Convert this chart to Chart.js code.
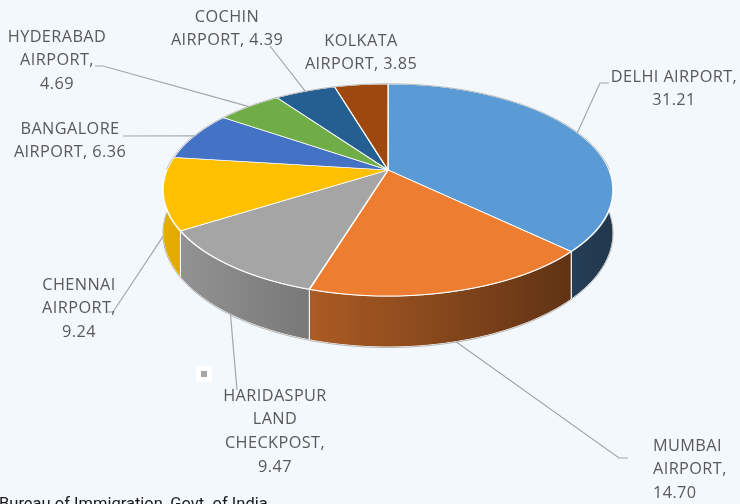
<!DOCTYPE html>
<html><head><meta charset="utf-8">
<script src="https://cdn.jsdelivr.net/npm/chart.js@4/dist/chart.umd.min.js"></script>
<style>html,body{margin:0;padding:0;background:#F2F8FC;overflow:hidden}#wrap{width:740px;height:504px;position:relative}</style>
</head><body><div id="wrap"><canvas id="c" width="740" height="504"></canvas></div>
<script>
// ---- data ----
const categories = ["DELHI AIRPORT","MUMBAI AIRPORT","HARIDASPUR LAND CHECKPOST","CHENNAI AIRPORT","BANGALORE AIRPORT","HYDERABAD AIRPORT","COCHIN AIRPORT","KOLKATA AIRPORT"];
const shares = [31.21, 14.70, 9.47, 9.24, 6.36, 4.69, 4.39, 3.85];
const sliceColors = ["#5B9BD5","#ED7D31","#A5A5A5","#FFC000","#4472C4","#70AD47","#255E91","#9E480E"];
const sourceNote = "Bureau of Immigration, Govt. of India";

// ---- layout (positions/styles only) ----
// perspective view of the pie: apex (cx,cy), horizontal/vertical scale, perspective factor k, wall height H
const view = {cx:388, cy:170, A:221, B:102.2, k:0.1887, H:41.4};
const labelLayout = [
  {lines:["DELHI AIRPORT,","{v}"], x:674, y:77, align:"center", elbow:[[600,83],[609,83]]},
  {lines:["MUMBAI","AIRPORT,","{v}"], x:653, y:446, align:"left", elbow:[[619,458],[628,458]]},
  {lines:["HARIDASPUR","LAND","CHECKPOST,","{v}"], x:275, y:396, align:"center", elbow:[[237,390]]},
  {lines:["CHENNAI","AIRPORT,","{v}"], x:79, y:285, align:"center", elbow:[[113,312],[106,312]]},
  {lines:["BANGALORE","AIRPORT, {v}"], x:70, y:129, align:"center", elbow:[[123,136]]},
  {lines:["HYDERABAD","AIRPORT,","{v}"], x:57, y:37, align:"center", elbow:[[103,66],[95,66]]},
  {lines:["COCHIN","AIRPORT, {v}"], x:227, y:17, align:"center", elbow:[[270,46]]},
  {lines:["KOLKATA","AIRPORT, {v}"], x:361, y:41, align:"center", elbow:null}
];
const labelFont = "16.3px 'Open Sans'";
const lineGap = 23.8;

function shade(hex, f){
  const n = parseInt(hex.slice(1),16);
  const r=Math.round(((n>>16)&255)*f), g=Math.round(((n>>8)&255)*f), b=Math.round((n&255)*f);
  return `rgb(${r},${g},${b})`;
}
// project a point of the unit disc (u right, w toward viewer) to the screen
function proj(u, w, drop){
  const d = 1 - view.k*w;
  return {x: view.cx + view.A*u/d, y: view.cy + view.B*w/d + (drop ? view.H/d : 0)};
}

const pie3d = {
  id:'pie3d',
  beforeDraw(chart){
    const ctx = chart.ctx;
    ctx.save(); ctx.fillStyle = '#F2F8FC'; ctx.fillRect(0,0,chart.width,chart.height); ctx.restore();
  },
  beforeDatasetsDraw(chart){
    const ctx = chart.ctx;
    const meta = chart.getDatasetMeta(0);
    const W = chart.width;
    // --- side walls (front half of the rim) ---
    ctx.save();
    meta.data.forEach((arc,i)=>{
      const p = arc.getProps(['startAngle','endAngle']);
      const a1 = Math.max(p.startAngle, 0), a2 = Math.min(p.endAngle, Math.PI);
      if (a2 <= a1) return;
      const n = Math.max(4, Math.ceil((a2-a1)*80));
      const grad = ctx.createLinearGradient(view.cx-view.A,0,view.cx+view.A,0);
      grad.addColorStop(0, shade(sliceColors[i],0.9));
      grad.addColorStop(1, shade(sliceColors[i],0.36));
      ctx.beginPath();
      for (let j=0;j<=n;j++){ const a=a1+(a2-a1)*j/n; const q=proj(Math.cos(a),Math.sin(a),false); j?ctx.lineTo(q.x,q.y):ctx.moveTo(q.x,q.y); }
      for (let j=n;j>=0;j--){ const a=a1+(a2-a1)*j/n; const q=proj(Math.cos(a),Math.sin(a),true); ctx.lineTo(q.x,q.y); }
      ctx.closePath();
      ctx.fillStyle = grad; ctx.fill();
      ctx.strokeStyle = '#FFFFFF'; ctx.lineWidth = 1; ctx.stroke();
    });
    // faint outline of the bottom rim
    ctx.beginPath();
    for (let j=0;j<=120;j++){ const a=Math.PI*j/120; const q=proj(Math.cos(a),Math.sin(a),true); j?ctx.lineTo(q.x,q.y+0.5):ctx.moveTo(q.x,q.y+0.5); }
    ctx.strokeStyle='rgba(165,165,165,0.8)'; ctx.lineWidth=1; ctx.stroke();
    ctx.restore();

    // --- top face: library draws the pie, row by row, in perspective ---
    const a0 = meta.data[0];
    const R = a0.outerRadius, ax = a0.x, ay = a0.y;
    const yTop = Math.floor(proj(0,-1).y) - 2, yBot = Math.ceil(proj(0,1).y) + 2;
    for (let Y = yTop; Y < yBot; Y++){
      const Ym = Y + 0.5, t = Ym - view.cy;
      const wm = t / (view.B + view.k*t);
      if (wm < -1.05 || wm > 1.05) continue;
      const d = 1 - view.k*wm;
      const sx = view.A/d, sy = view.B/(d*d);
      ctx.save();
      ctx.setTransform(1,0,0,1,0,0);
      ctx.beginPath(); ctx.rect(0, Y, W, 1); ctx.clip();
      ctx.setTransform(sx/R, 0, 0, sy/R, view.cx - sx*ax/R, Ym - sy*wm - sy*ay/R);
      meta.controller.draw();
      ctx.restore();
    }
    // faint outline of the back rim
    ctx.save();
    ctx.beginPath();
    for (let j=0;j<=120;j++){ const a=Math.PI+Math.PI*j/120; const q=proj(Math.cos(a)*1.003,Math.sin(a)*1.003,false); j?ctx.lineTo(q.x,q.y):ctx.moveTo(q.x,q.y); }
    ctx.strokeStyle='rgba(175,175,175,0.8)'; ctx.lineWidth=1; ctx.stroke();
    ctx.restore();
    return false;
  },
  afterDraw(chart){
    const ctx = chart.ctx;
    const meta = chart.getDatasetMeta(0);
    ctx.save();
    // leader lines
    ctx.strokeStyle = '#A6A6A6'; ctx.lineWidth = 1.2;
    meta.data.forEach((arc,i)=>{
      const L = labelLayout[i];
      if (!L.elbow) return;
      const p = arc.getProps(['startAngle','endAngle']);
      const mid = (p.startAngle+p.endAngle)/2;
      const w = Math.sin(mid);
      const q = proj(Math.cos(mid), w, w > 0);
      ctx.beginPath(); ctx.moveTo(q.x,q.y);
      L.elbow.forEach(pt=>ctx.lineTo(pt[0],pt[1]));
      ctx.stroke();
    });
    // labels
    ctx.font = labelFont; ctx.fillStyle = '#595959'; ctx.textBaseline = 'middle';
    try { ctx.letterSpacing = '0.4px'; } catch(e) {}
    labelLayout.forEach((L,i)=>{
      ctx.textAlign = L.align;
      L.lines.forEach((t,k)=>{
        ctx.fillText(t.replace('{v}', shares[i].toFixed(2)), L.x, L.y + k*lineGap);
      });
    });
    try { ctx.letterSpacing = '0px'; } catch(e) {}
    // small marker
    ctx.fillStyle = '#FFFFFF';
    ctx.beginPath(); ctx.roundRect(196,366,16,16,3); ctx.fill();
    ctx.fillStyle = '#A6A6A6'; ctx.fillRect(201,371,6,6);
    // source note
    ctx.font = "16.5px Roboto"; ctx.fillStyle = '#1A1A1A'; ctx.textAlign='left'; ctx.textBaseline='alphabetic';
    ctx.fillText(sourceNote, -1, 509);
    ctx.restore();
  }
};

new Chart(document.getElementById('c').getContext('2d'), {
  type:'pie',
  data:{labels:categories, datasets:[{data:shares, backgroundColor:sliceColors, borderColor:'#FFFFFF', borderWidth:1.5}]},
  options:{
    responsive:false, animation:false, events:[],
    layout:{padding:{left:145,right:145,top:27,bottom:27}},
    plugins:{legend:{display:false}, tooltip:{enabled:false}}
  },
  plugins:[pie3d]
});
</script></body></html>
